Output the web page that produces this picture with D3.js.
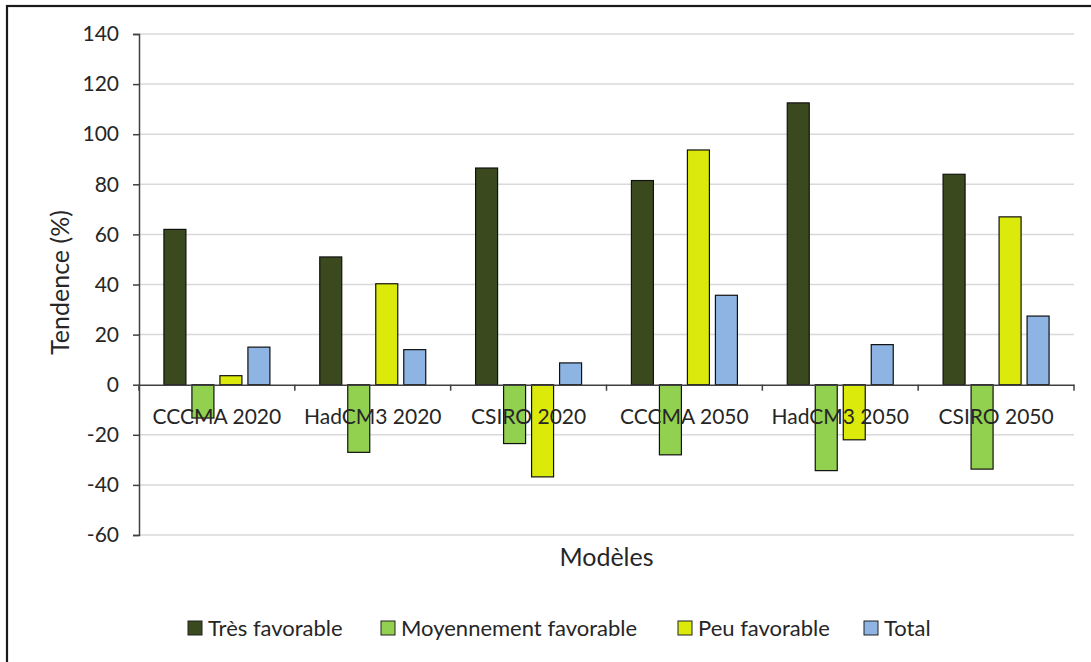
<!DOCTYPE html>
<html>
<head>
<meta charset="utf-8">
<script src="https://cdn.jsdelivr.net/npm/d3@7"></script>
<style>
  html, body { margin: 0; padding: 0; background: #fff; }
  svg { display: block; }
  text { font-family: Lato, "Noto Sans", sans-serif; fill: #262626; }
</style>
</head>
<body>
<svg id="chart" width="1091" height="662"></svg>
<script>
const categories = ["CCCMA 2020", "HadCM3 2020", "CSIRO 2020", "CCCMA 2050", "HadCM3 2050", "CSIRO 2050"];
const seriesNames = ["Très favorable", "Moyennement favorable", "Peu favorable", "Total"];
const tresFavorable = [62, 51, 86.5, 81.5, 112.5, 84];
const moyennementFavorable = [-13.3, -27, -23.5, -28, -34.3, -33.7];
const peuFavorable = [3.6, 40.3, -36.8, 93.7, -22, 67];
const total = [15, 14, 8.7, 35.7, 16, 27.4];
const seriesColors = ["#3b4a1e", "#92d050", "#dbea0a", "#8db4e2"];
const yTicks = [-60, -40, -20, 0, 20, 40, 60, 80, 100, 120, 140];
const yTitle = "Tendence (%)";
const xTitle = "Modèles";

const seriesValues = [tresFavorable, moyennementFavorable, peuFavorable, total];

const svg = d3.select("#chart");
const plot = { left: 139, right: 1074, top: 34, bottom: 535 };

// outer border (only left and top visible)
svg.append("rect")
  .attr("x", 7).attr("y", 6)
  .attr("width", 1200).attr("height", 800)
  .attr("fill", "none")
  .attr("stroke", "#1a1a1a")
  .attr("stroke-width", 2.2);

const x = d3.scaleBand().domain(categories).range([plot.left, plot.right]).paddingInner(0).paddingOuter(0);
const xs = d3.scaleBand().domain(seriesNames).range([0, x.bandwidth()]).paddingInner(0.2143).paddingOuter(0.89);
const y = d3.scaleLinear().domain([-60, 140]).range([plot.bottom, plot.top]);

// gridlines
svg.append("g").selectAll("line")
  .data(yTicks.filter(d => d !== 0))
  .join("line")
  .attr("x1", plot.left).attr("x2", plot.right)
  .attr("y1", d => y(d)).attr("y2", d => y(d))
  .attr("stroke", "#d9d9d9").attr("stroke-width", 1.5);

// bars
const data = [];
categories.forEach((c, i) => {
  seriesNames.forEach((s, j) => {
    data.push({ cat: c, series: s, value: seriesValues[j][i], color: seriesColors[j] });
  });
});

svg.append("g").selectAll("rect")
  .data(data)
  .join("rect")
  .attr("x", d => x(d.cat) + xs(d.series))
  .attr("width", xs.bandwidth())
  .attr("y", d => y(Math.max(0, d.value)))
  .attr("height", d => Math.abs(y(d.value) - y(0)))
  .attr("fill", d => d.color)
  .attr("stroke", "#111")
  .attr("stroke-width", 1.2);

// y axis
const yAxis = d3.axisLeft(y).tickValues(yTicks).tickSize(6).tickPadding(14).tickFormat(d3.format("d"));
const gy = svg.append("g").attr("transform", `translate(${plot.left},0)`).call(yAxis);
gy.select(".domain").attr("stroke", "#404040").attr("stroke-width", 1.5);
gy.selectAll(".tick line").attr("stroke", "#404040").attr("stroke-width", 1.5);
gy.selectAll(".tick text").style("font-family", "Lato, 'Noto Sans', sans-serif").style("font-size", "21px").attr("fill", "#262626");
gy.selectAll(".tick text").text(d => d < 0 ? "-" + Math.abs(d) : d);

// x axis at zero
const xAxis = d3.axisBottom(x).tickSize(0).tickFormat("");
const gx = svg.append("g").attr("transform", `translate(0,${y(0)})`).call(xAxis);
gx.select(".domain").attr("stroke", "#404040").attr("stroke-width", 1.5);
// category boundary ticks
const bounds = [plot.left].concat(categories.map(c => x(c) + x.bandwidth()));
gx.selectAll(".bound").data(bounds).join("line")
  .attr("class", "bound")
  .attr("x1", d => d).attr("x2", d => d)
  .attr("y1", 0).attr("y2", 6)
  .attr("stroke", "#404040").attr("stroke-width", 1.5);
// category labels
svg.append("g").selectAll("text")
  .data(categories)
  .join("text")
  .attr("x", d => x(d) + x.bandwidth() / 2)
  .attr("y", 424)
  .attr("text-anchor", "middle")
  .style("font-size", "21px")
  .text(d => d);

// axis titles
svg.append("text")
  .attr("transform", `translate(69,${(plot.top + plot.bottom) / 2 - 2}) rotate(-90)`)
  .attr("text-anchor", "middle")
  .style("font-size", "25px")
  .text(yTitle);

svg.append("text")
  .attr("x", (plot.left + plot.right) / 2)
  .attr("y", 566)
  .attr("text-anchor", "middle")
  .style("font-size", "25px")
  .text(xTitle);

// legend
const legendX = [188, 381, 678, 864];
const lg = svg.append("g").selectAll("g")
  .data(seriesNames)
  .join("g")
  .attr("transform", (d, i) => `translate(${legendX[i]},628)`);
lg.append("rect")
  .attr("x", 0).attr("y", -7)
  .attr("width", 14).attr("height", 14)
  .attr("fill", (d, i) => seriesColors[i])
  .attr("stroke", "#222").attr("stroke-width", 1);
lg.append("text")
  .attr("x", 20).attr("y", 8)
  .style("font-size", "22px")
  .text(d => d);
</script>
</body>
</html>
